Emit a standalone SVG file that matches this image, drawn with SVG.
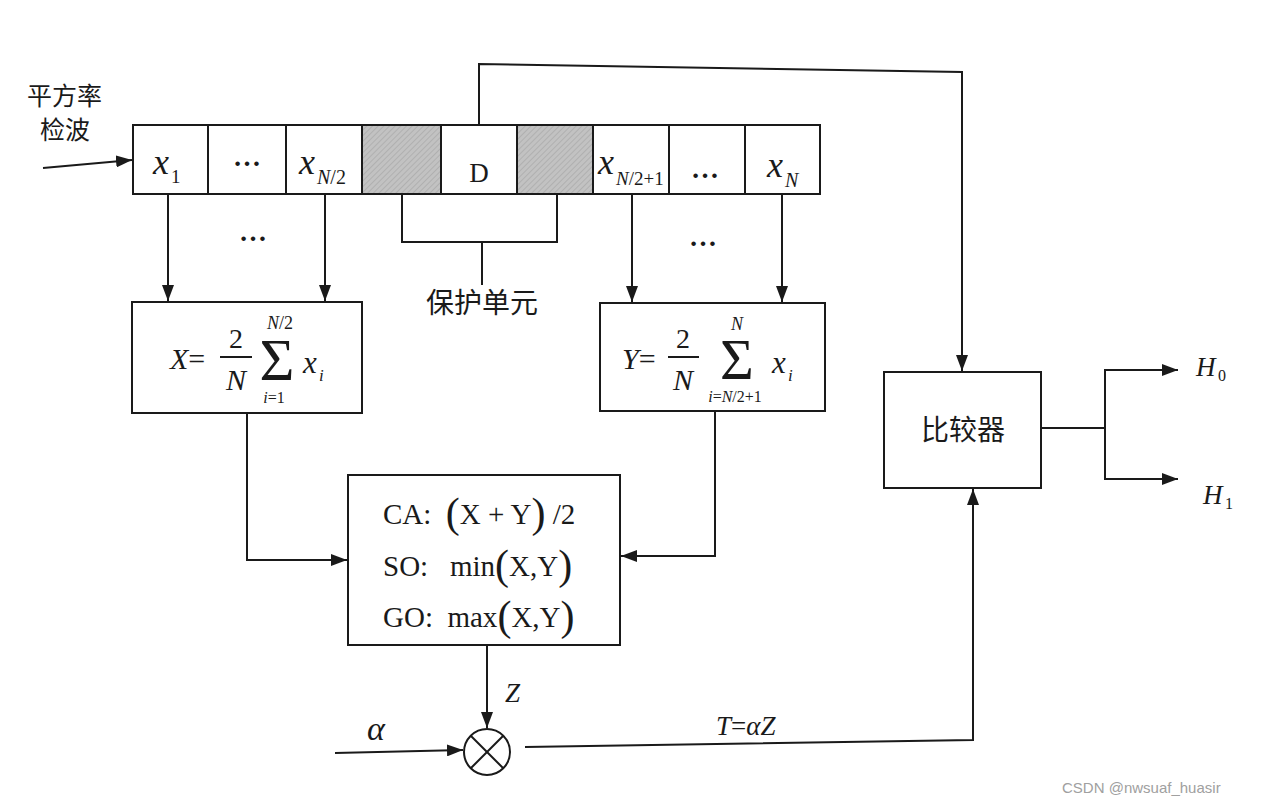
<svg xmlns="http://www.w3.org/2000/svg" width="1269" height="805" viewBox="0 0 1269 805">
<defs>
<marker id="ah" viewBox="0 0 16 12" refX="16" refY="6" markerWidth="16" markerHeight="12" markerUnits="userSpaceOnUse" orient="auto">
<path d="M0,0 L16,6 L0,12 Z" fill="#1a1a1a"/>
</marker>
<pattern id="hatch" width="4" height="4" patternUnits="userSpaceOnUse" patternTransform="rotate(45)">
<rect width="4" height="4" fill="#c2c2c2"/>
<line x1="0" y1="0" x2="0" y2="4" stroke="#aaaaaa" stroke-width="1.5"/>
</pattern>
<style>
.ln{fill:none;stroke:#1a1a1a;stroke-width:2}
.bx{fill:#fff;stroke:#1a1a1a;stroke-width:2}
.gy{fill:url(#hatch);stroke:#1a1a1a;stroke-width:2}
.m{font-family:"Liberation Serif",serif;fill:#1a1a1a}
.i{font-style:italic}
.cj{font-family:"Noto Sans CJK SC",sans-serif;fill:#1a1a1a}
</style>
</defs>
<rect width="1269" height="805" fill="#fff"/>

<g id="input-label">
<text class="cj" x="27" y="105" font-size="25">平方率</text>
<text class="cj" x="40" y="139" font-size="25">检波</text>
</g>

<g id="cells">
<rect class="bx" x="133" y="125" width="75" height="69"/>
<rect class="bx" x="208" y="125" width="78" height="69"/>
<rect class="bx" x="286" y="125" width="76" height="69"/>
<rect class="gy" x="362" y="125" width="79" height="69"/>
<rect class="bx" x="441" y="125" width="76" height="69"/>
<rect class="gy" x="517" y="125" width="76" height="69"/>
<rect class="bx" x="593" y="125" width="76" height="69"/>
<rect class="bx" x="669" y="125" width="76" height="69"/>
<rect class="bx" x="745" y="125" width="75" height="69"/>
<text class="m i" x="153" y="174" font-size="36">x</text><text class="m" x="171" y="183" font-size="19">1</text>
<text class="m" x="247" y="166" font-size="28" font-weight="bold" text-anchor="middle">…</text>
<text class="m i" x="299" y="174" font-size="36">x</text><text class="m" x="317" y="184" font-size="20"><tspan font-style="italic">N</tspan>/2</text>
<text class="m" x="479" y="182" font-size="27" text-anchor="middle" fill="#333">D</text>
<text class="m i" x="598" y="174" font-size="36">x</text><text class="m" x="616" y="185" font-size="19"><tspan font-style="italic">N</tspan>/2+1</text>
<text class="m" x="705" y="178" font-size="28" font-weight="bold" text-anchor="middle">…</text>
<text class="m i" x="767" y="177" font-size="36">x</text><text class="m i" x="785" y="187" font-size="20">N</text>
</g>

<g id="guard-label">
<text class="cj" x="482" y="313" font-size="28" text-anchor="middle">保护单元</text>
</g>

<g id="X-box">
<rect class="bx" x="132" y="302" width="230" height="111"/>
<text class="m" x="170" y="369" font-size="30"><tspan font-style="italic">X</tspan>=</text>
<text class="m" x="236" y="348" font-size="28" text-anchor="middle">2</text>
<line class="ln" x1="220" y1="357" x2="252" y2="357"/>
<text class="m i" x="236" y="390" font-size="30" text-anchor="middle">N</text>
<text class="m" x="277" y="380" font-size="60" text-anchor="middle">Σ</text>
<text class="m" x="280" y="329" font-size="18" text-anchor="middle"><tspan font-style="italic">N</tspan>/2</text>
<text class="m" x="274" y="403" font-size="16" text-anchor="middle"><tspan font-style="italic">i</tspan>=1</text>
<text class="m i" x="303" y="373" font-size="31">x</text><text class="m i" x="319" y="381" font-size="17">i</text>
</g>

<g id="Y-box">
<rect class="bx" x="600" y="303" width="225" height="108"/>
<text class="m" x="622" y="369" font-size="30"><tspan font-style="italic">Y</tspan>=</text>
<text class="m" x="683" y="348" font-size="28" text-anchor="middle">2</text>
<line class="ln" x1="668" y1="357" x2="699" y2="357"/>
<text class="m i" x="683" y="390" font-size="30" text-anchor="middle">N</text>
<text class="m" x="737" y="379" font-size="58" text-anchor="middle">Σ</text>
<text class="m i" x="737" y="330" font-size="18" text-anchor="middle">N</text>
<text class="m" x="735" y="402" font-size="16" text-anchor="middle"><tspan font-style="italic">i</tspan>=<tspan font-style="italic">N</tspan>/2+1</text>
<text class="m i" x="772" y="373" font-size="31">x</text><text class="m i" x="788" y="381" font-size="17">i</text>
</g>

<g id="combiner">
<rect class="bx" x="348" y="475" width="272" height="170"/>
<text class="m" x="383" y="524" font-size="29" xml:space="preserve">CA:  <tspan font-size="42" dy="3">(</tspan><tspan dy="-3">X + Y</tspan><tspan font-size="42" dy="3">)</tspan><tspan dy="-3"> /2</tspan></text>
<text class="m" x="383" y="576" font-size="29" xml:space="preserve">SO:   min<tspan font-size="42" dy="3">(</tspan><tspan dy="-3">X,Y</tspan><tspan font-size="42" dy="3">)</tspan></text>
<text class="m" x="383" y="627" font-size="29" xml:space="preserve">GO:  max<tspan font-size="42" dy="3">(</tspan><tspan dy="-3">X,Y</tspan><tspan font-size="42" dy="3">)</tspan></text>
</g>

<g id="multiplier">
<circle cx="487" cy="752" r="23" fill="#fff" stroke="#1a1a1a" stroke-width="2"/>
<line class="ln" x1="471" y1="736" x2="503" y2="768"/>
<line class="ln" x1="503" y1="736" x2="471" y2="768"/>
</g>

<g id="comparator">
<rect class="bx" x="884" y="372" width="157" height="116"/>
<text class="cj" x="963" y="440" font-size="28" text-anchor="middle">比较器</text>
</g>

<g id="connectors">
<line class="ln" x1="43" y1="168" x2="132" y2="160" marker-end="url(#ah)"/>
<polyline class="ln" points="479,125 479,64 962,72 962,371" marker-end="url(#ah)"/>
<line class="ln" x1="168" y1="194" x2="168" y2="301" marker-end="url(#ah)"/>
<line class="ln" x1="325" y1="194" x2="325" y2="301" marker-end="url(#ah)"/>
<line class="ln" x1="632" y1="194" x2="632" y2="302" marker-end="url(#ah)"/>
<line class="ln" x1="782" y1="194" x2="782" y2="302" marker-end="url(#ah)"/>
<polyline class="ln" points="402,194 402,242 557,242 557,194"/>
<line class="ln" x1="482" y1="242" x2="482" y2="285"/>
<polyline class="ln" points="247,413 247,560 347,560" marker-end="url(#ah)"/>
<polyline class="ln" points="715,411 715,556 621,556" marker-end="url(#ah)"/>
<line class="ln" x1="487" y1="645" x2="487" y2="728" marker-end="url(#ah)"/>
<line class="ln" x1="335" y1="753" x2="463" y2="750" marker-end="url(#ah)"/>
<polyline class="ln" points="525,747 973,740 973,489" marker-end="url(#ah)"/>
<line class="ln" x1="1041" y1="428" x2="1105" y2="428"/>
<line class="ln" x1="1105" y1="369" x2="1105" y2="480"/>
<line class="ln" x1="1104" y1="370" x2="1178" y2="370" marker-end="url(#ah)"/>
<line class="ln" x1="1104" y1="479" x2="1178" y2="479" marker-end="url(#ah)"/>
</g>

<g id="labels">
<text class="m" x="253" y="241" font-size="28" font-weight="bold" text-anchor="middle">…</text>
<text class="m" x="703" y="246" font-size="28" font-weight="bold" text-anchor="middle">…</text>
<text class="m i" x="505" y="702" font-size="27">Z</text>
<text class="m i" x="367" y="740" font-size="34">α</text>
<text class="m" x="716" y="735" font-size="27"><tspan font-style="italic">T</tspan>=<tspan font-style="italic">αZ</tspan></text>
<text class="m i" x="1196" y="376" font-size="27">H</text><text class="m" x="1218" y="381" font-size="16">0</text>
<text class="m i" x="1203" y="504" font-size="27">H</text><text class="m" x="1225" y="509" font-size="16">1</text>
<text x="1062" y="793" font-family="Liberation Sans,sans-serif" font-size="15" fill="#a0a0a0">CSDN @nwsuaf_huasir</text>
</g>
</svg>
